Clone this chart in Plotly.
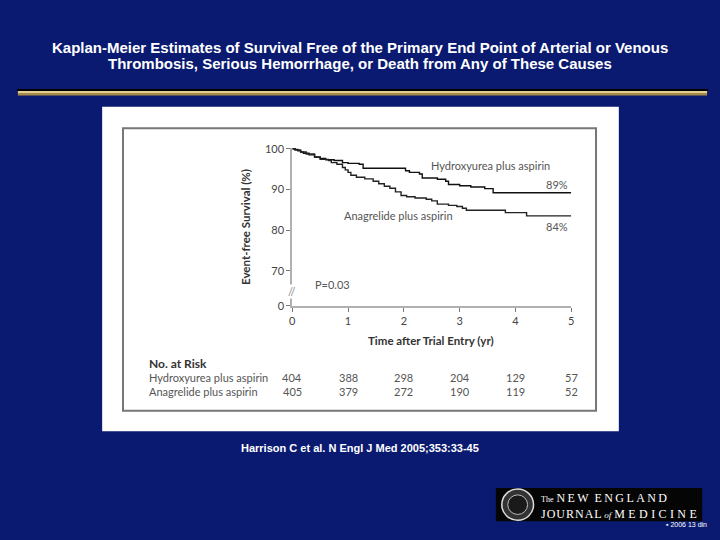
import plotly.graph_objects as go

W, H = 720, 540
def px(x): return x / W
def py(y): return 1 - y / H

# ---- data ----
hu_t = [0, 0.05, 0.1, 0.15, 0.2, 0.3, 0.4, 0.5, 0.6, 0.75, 0.9, 1.0, 1.2, 1.27, 2.03, 2.1, 2.28, 2.33, 2.6, 2.75, 2.8, 3.0, 3.2, 3.45, 3.6, 5.0]
hu_s = [100, 99.8, 99.5, 99.2, 98.9, 98.5, 98.0, 97.6, 97.3, 97.1, 96.6, 96.4, 96.2, 95.2, 94.6, 94.2, 93.8, 92.8, 92.5, 92.0, 91.2, 90.9, 90.6, 90.2, 89.2, 89.2]
an_t = [0, 0.05, 0.15, 0.25, 0.4, 0.5, 0.65, 0.7, 0.8, 0.9, 0.95, 1.0, 1.05, 1.15, 1.3, 1.45, 1.55, 1.65, 1.75, 1.85, 1.95, 2.05, 2.2, 2.4, 2.5, 2.6, 2.8, 2.95, 3.05, 3.12, 3.8, 3.82, 4.2, 5.0]
an_s = [100, 99.7, 99.2, 98.7, 97.9, 97.4, 97.1, 96.6, 96.2, 95.4, 94.8, 94.2, 93.5, 93.0, 92.6, 92.0, 91.4, 90.8, 90.3, 89.4, 88.5, 88.2, 87.9, 87.6, 87.2, 86.4, 86.1, 85.8, 85.4, 84.9, 84.9, 84.3, 83.5, 83.5]
years = [0, 1, 2, 3, 4, 5]
hu_risk = [404, 388, 298, 204, 129, 57]
an_risk = [405, 379, 272, 190, 119, 52]
y_tickvals = [61.4, 70, 80, 90, 100]
y_ticktext = ["0", "70", "80", "90", "100"]
hu_name = "Hydroxyurea plus aspirin"
an_name = "Anagrelide plus aspirin"

NAVY = "#0a1a70"
CF = "Lato"

fig = go.Figure()
fig.add_trace(go.Scatter(x=hu_t, y=hu_s, mode="lines", line=dict(color="#111111", width=1.4, shape="hv"),
                         name=hu_name, showlegend=False, hoverinfo="skip"))
fig.add_trace(go.Scatter(x=an_t, y=an_s, mode="lines", line=dict(color="#222222", width=1.4, shape="hv"),
                         name=an_name, showlegend=False, hoverinfo="skip"))

shapes = [
    # gold bar
    dict(type="rect", xref="paper", yref="paper", x0=px(14), x1=px(711), y0=py(87), y1=py(85),
         fillcolor="#000000", line=dict(width=0), layer="below"),
    dict(type="rect", xref="paper", yref="paper", x0=px(15), x1=px(710), y0=py(89), y1=py(87),
         fillcolor="#e3cf94", line=dict(width=0), layer="below"),
    dict(type="rect", xref="paper", yref="paper", x0=px(15), x1=px(710), y0=py(91.5), y1=py(89),
         fillcolor="#a88a48", line=dict(width=0), layer="below"),
    # white figure box
    dict(type="rect", xref="paper", yref="paper", x0=px(100), x1=px(621), y0=py(435), y1=py(103),
         fillcolor="white", line=dict(width=0), layer="below"),
    # inner gray box
    dict(type="rect", xref="paper", yref="paper", x0=px(121), x1=px(598), y0=py(414), y1=py(125),
         fillcolor="rgba(0,0,0,0)", line=dict(color="#777777", width=2), layer="below"),
    # logo
    dict(type="rect", xref="paper", yref="paper", x0=px(497), x1=px(705), y0=py(527), y1=py(493),
         fillcolor="#050505", line=dict(width=0), layer="above"),
    dict(type="circle", xref="paper", yref="paper", x0=px(503), x1=px(535), y0=py(526), y1=py(494),
         fillcolor="#333333", line=dict(color="#dddddd", width=1.5), layer="above"),
    dict(type="circle", xref="paper", yref="paper", x0=px(509), x1=px(529), y0=py(520), y1=py(500),
         fillcolor="#1a1a1a", line=dict(color="#bbbbbb", width=1), layer="above"),
]

ann = []
def A(text, x, y, size, color, xanchor="center", font=CF, bold=False, **kw):
    if bold:
        text = "<b>" + text + "</b>"
    ann.append(dict(text=text, x=x, y=y, xref=kw.pop("xref", "paper"), yref=kw.pop("yref", "paper"),
                    xanchor=xanchor, yanchor="middle", showarrow=False,
                    font=dict(family=font, size=size, color=color), **kw))

def spaced(word, sep="\u200a"):
    return sep.join(word)

TF = "Liberation Sans"
A("Kaplan-Meier Estimates of Survival Free of the Primary End Point of Arterial or Venous", px(360), py(42), 15, "white", font=TF, bold=True)
A("Thrombosis, Serious Hemorrhage, or Death from Any of These Causes", px(360), py(59), 15, "white", font=TF, bold=True)
A("Harrison C et al. N Engl J Med 2005;353:33-45", px(360), py(452), 11, "white", font=TF, bold=True)

# chart texts
A("Event-free Survival (%)", px(245), py(226), 11.5, "#333333", bold=True, textangle=-90)
A("Time after Trial Entry (yr)", px(432), py(342), 11.5, "#333333", bold=True)
A("P=0.03", px(313), py(285), 11, "#555555", xanchor="left")
A(hu_name, px(430), py(163), 11, "#555555", xanchor="left")
A("89%", px(572), py(183), 11, "#555555", xanchor="right")
A(an_name, px(342), py(214), 11, "#555555", xanchor="left")
A("84%", px(572), py(225), 11, "#555555", xanchor="right")
A("//", 0, 64.9, 11, "#888888", xref="x", yref="y", bgcolor="white", borderpad=0)

# number at risk
A("No. at Risk", px(145), py(366), 12, "#333333", xanchor="left", bold=True)
A(hu_name, px(145), py(380), 11, "#555555", xanchor="left")
A(an_name, px(145), py(394), 11, "#555555", xanchor="left")
for yr, a, b in zip(years, hu_risk, an_risk):
    A(str(a), yr, py(380), 11, "#555555", xref="x")
    A(str(b), yr, py(394), 11, "#555555", xref="x")

# logo text (one block)
SF = "Liberation Serif"
logo = ("<span style='font-size:8px'>The</span> " + spaced("NEW", "\u2009") + "\u2002" + spaced("ENGLAND", "\u2009")
        + "<br>" + spaced("JOURNAL") + " <span style='font-size:9px'><i>of</i></span> "
        + spaced("MEDICINE", "\u2009\u200a"))
A(logo, px(541), py(511), 12, "white", xanchor="left", font=SF, align="left")
A("▪ 2006 13 din", px(667), py(530.5), 7, "white", xanchor="left", font=TF)

fig.update_layout(
    width=W, height=H, margin=dict(l=0, r=0, t=0, b=0),
    paper_bgcolor=NAVY, plot_bgcolor="white",
    shapes=shapes, annotations=ann, showlegend=False,
    xaxis=dict(domain=[px(291.7), px(573)], range=[0, 5], tickvals=years, ticks="outside",
               ticklen=4, tickcolor="#777777", showline=True, linecolor="#b0b0b0", linewidth=2,
               showgrid=False, zeroline=False, tickfont=dict(family=CF, size=11, color="#444444")),
    yaxis=dict(domain=[py(306.7), py(144.75)], range=[61.4, 100.3], tickvals=y_tickvals, ticktext=y_ticktext,
               ticks="outside", ticklen=4, tickcolor="#777777", showline=True, linecolor="#b0b0b0",
               linewidth=2, showgrid=False, zeroline=False, tickfont=dict(family=CF, size=11, color="#444444")),
)
fig.write_html("out.html", config={"displayModeBar": False},
               post_script="document.body.style.margin='0';document.body.style.padding='0';document.body.style.overflow='hidden';")
